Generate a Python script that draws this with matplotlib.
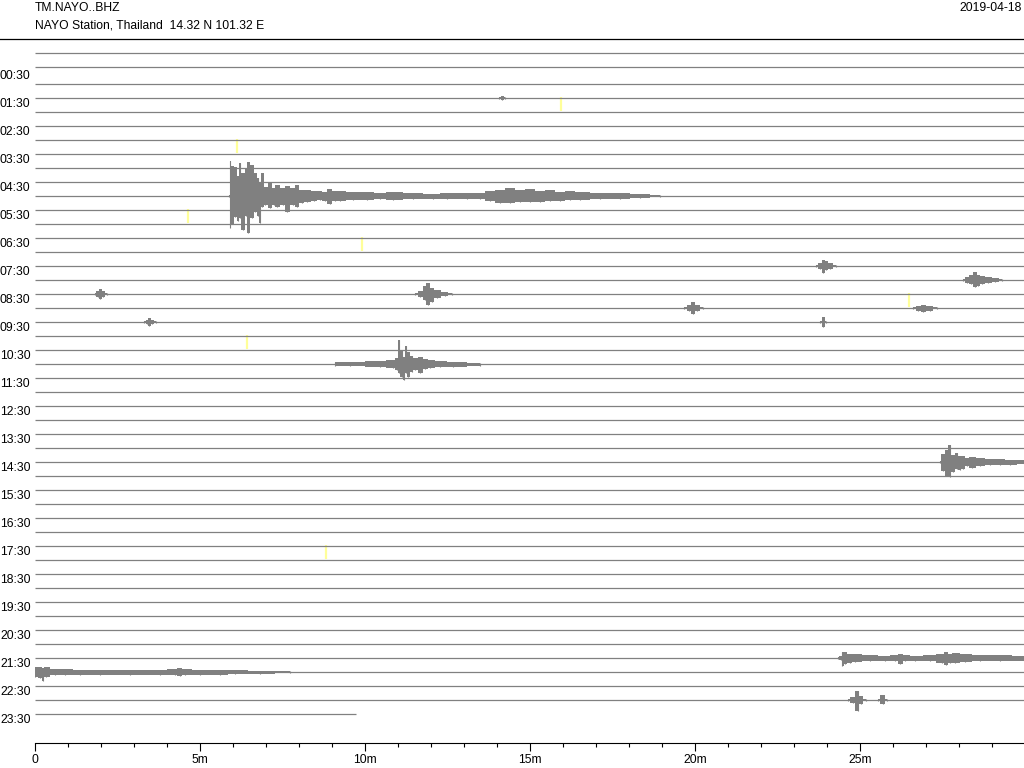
import matplotlib
matplotlib.use("Agg")
import matplotlib.pyplot as plt
from matplotlib.lines import Line2D
from matplotlib.transforms import blended_transform_factory
import numpy as np

plt.rcParams["font.family"] = ["Liberation Sans", "DejaVu Sans"]
plt.rcParams["font.size"] = 8.7

station = "TM.NAYO..BHZ"
site = "NAYO Station, Thailand  14.32 N 101.32 E"
day = "2019-04-18"

n_lines = 48            # one line every 30 minutes
last_line_end = 9.73    # minutes of data on the 23:30 line
trace_scale = 14.0      # amplitude units per line spacing
baseline_shift = {0: -3.3, 1: -3.5}   # mean offset of the first two lines

# envelopes: (minute, amplitude up, amplitude down)
quake_0500 = [(5.879, 1, 1), (5.909, 35, 32), (5.970, 30, 28), (6.061, 29, 21), (6.152, 20, 25),
              (6.212, 33, 22), (6.303, 23, 34), (6.394, 28, 20), (6.455, 34, 37), (6.576, 31, 22),
              (6.667, 23, 16), (6.758, 18, 20), (6.818, 14, 27), (6.879, 23, 11), (6.970, 9, 9),
              (7.121, 13, 12), (7.242, 8, 9), (7.333, 11, 11), (7.515, 8, 9), (7.636, 10, 16),
              (7.818, 8, 9), (7.939, 11, 11), (8.091, 6, 7), (8.242, 6, 6), (8.455, 5, 5),
              (8.636, 5, 4), (8.788, 4, 5), (8.939, 7, 8), (9.091, 5, 5), (9.242, 5, 5),
              (9.636, 4, 4), (10.061, 4, 4), (10.455, 3, 3), (10.848, 4, 4), (11.455, 3, 3),
              (12.061, 2.5, 2.5), (12.485, 3, 3), (13.091, 3, 3), (13.485, 3, 3), (13.788, 5, 5),
              (14.091, 6, 7), (14.394, 8, 7), (14.697, 6, 6), (15.0, 7, 6), (15.303, 5, 6),
              (15.606, 6, 5), (15.909, 4, 5), (16.212, 5, 4), (16.515, 4, 4), (17.121, 3, 3),
              (17.727, 3, 3), (18.333, 2, 2), (18.939, 1, 1)]
quake_1100 = [(9.091, 2, 2), (9.545, 2, 2), (10.455, 3, 3), (10.848, 4, 4), (10.970, 6, 6),
              (11.030, 24, 9), (11.121, 14, 13), (11.182, 7, 16), (11.242, 18, 9), (11.303, 12, 13),
              (11.424, 8, 8), (11.515, 6, 6), (11.667, 7, 9), (11.818, 5, 5), (11.970, 4, 4),
              (12.273, 3, 3), (12.667, 2.5, 2.5), (13.485, 1.5, 1.5)]
quake_1430 = [(27.424, 1, 1), (27.515, 8, 9), (27.636, 12, 14), (27.727, 17, 15), (27.818, 7, 10),
              (27.939, 9, 7), (28.030, 6, 8), (28.121, 6, 7), (28.242, 4, 4), (28.394, 5, 6),
              (28.636, 4, 4), (28.939, 3, 3), (29.242, 3, 3), (29.545, 2.5, 2.5), (29.970, 2, 2)]
quake_2130 = [(24.333, 1, 1), (24.424, 2, 2), (24.455, 6, 8), (24.545, 6, 6), (24.697, 4, 5),
              (24.848, 4, 4), (25.303, 3, 3), (25.758, 2.5, 2.5), (26.061, 3, 3), (26.212, 4.5, 5.5),
              (26.364, 3, 3), (26.667, 2.5, 2.5), (27.121, 3, 3), (27.485, 4, 5), (27.606, 6, 7),
              (27.727, 4, 5), (27.879, 5, 5), (28.182, 4, 4), (28.636, 3, 3), (29.242, 3, 3),
              (29.970, 2.5, 2.5)]
quake_2200 = [(0.0, 5, 5), (0.152, 5, 6), (0.242, 4, 9), (0.333, 5, 5), (0.606, 3, 3),
              (0.909, 3, 3), (1.364, 2.5, 2.5), (1.970, 2.5, 2.5), (2.879, 2.5, 2.5), (3.788, 2.5, 2.5),
              (4.242, 3, 3), (4.394, 4, 4), (4.545, 3, 3), (5.0, 2.5, 2.5), (5.606, 2.5, 2.5),
              (6.061, 2, 2), (6.818, 1.5, 1.5), (7.727, 1, 1)]
small_0130 = [(14.061, 1, 1), (14.152, 2.5, 2), (14.242, 1, 1)]
small_0730 = [(23.667, 1, 1), (23.788, 3, 3), (23.879, 6, 7), (23.970, 5, 4), (24.091, 3, 3), (24.273, 1, 1)]
small_0800 = [(28.121, 1, 1), (28.242, 3, 3), (28.364, 5, 4), (28.485, 8, 7), (28.576, 5, 6),
              (28.697, 4, 4), (28.879, 3, 3), (29.091, 2, 2), (29.303, 1, 1)]
small_0830a = [(1.818, 1, 1), (1.909, 3, 3), (1.970, 5, 5), (2.061, 3, 3), (2.182, 1, 1)]
small_0830b = [(11.515, 1, 1), (11.667, 3, 3), (11.818, 8, 6), (11.909, 11, 11), (12.030, 6, 8),
               (12.182, 4, 4), (12.424, 2, 2), (12.636, 1, 1)]
small_0900a = [(19.667, 1, 1), (19.818, 3, 3), (19.939, 6, 6), (20.061, 3, 3), (20.242, 1, 1)]
small_0900b = [(26.606, 1, 1), (26.758, 2.5, 2.5), (26.909, 3.5, 3.5), (27.121, 2.5, 2.5), (27.333, 1, 1)]
small_0930a = [(3.303, 1, 1), (3.394, 2, 2), (3.455, 4, 4), (3.545, 2, 2), (3.667, 1, 1)]
small_0930b = [(23.788, 1, 1), (23.879, 5, 5), (23.970, 1, 1)]
small_2300a = [(24.636, 1, 1), (24.788, 3, 3), (24.939, 9, 11), (25.030, 4, 4), (25.182, 1, 1)]
small_2300b = [(25.545, 1, 1), (25.697, 5, 4), (25.818, 1, 1)]

events = [(10, quake_0500), (22, quake_1100), (29, quake_1430), (43, quake_2130), (44, quake_2200),
          (3, small_0130), (15, small_0730), (16, small_0800), (17, small_0830a), (17, small_0830b),
          (18, small_0900a), (18, small_0900b), (19, small_0930a), (19, small_0930b),
          (46, small_2300a), (46, small_2300b)]

# yellow event markers: (line, minute)
markers = [(3, 15.94), (6, 6.12), (11, 4.64), (13, 9.91), (17, 26.48), (20, 6.42), (35, 8.82)]

tick_minutes = [0, 5, 10, 15, 20, 25]
tick_labels = ["0", "5m", "10m", "15m", "20m", "25m"]

grey = "#808080"
W, H = 1024, 768
fig = plt.figure(figsize=(W / 100, H / 100), dpi=100)
ax_top, ax_bot = 38, 743
ax = fig.add_axes([35 / W, (H - ax_bot) / H, 990 / W, (ax_bot - ax_top) / H])
ax.set_xlim(0, 30)
ax.set_ylim((ax_bot - 56) / 14.0, (ax_top - 56) / 14.0)

for line_no, minute in markers:
    ax.vlines(minute, line_no - 0.1, line_no + 0.9, color="#ffff99", lw=1.6, zorder=1)

for i in range(n_lines):
    y0 = i + baseline_shift.get(i, 0) / trace_scale
    end = 30 if i < n_lines - 1 else last_line_end
    ax.plot([0, end], [y0, y0], color=grey, lw=0.9, zorder=2, solid_capstyle="butt")

for line_no, env in events:
    env = np.array(env, dtype=float)
    lo = line_no - env[:, 1] / trace_scale
    hi = line_no + env[:, 2] / trace_scale
    ax.fill_between(env[:, 0], lo, hi, step="mid", color=grey, lw=0, zorder=3)
    ax.vlines(env[:, 0], lo, hi, color=grey, lw=0.8, zorder=3)

tr = blended_transform_factory(fig.transFigure, ax.transData)
for i in range(1, n_lines, 2):
    h = i // 2
    ax.text(0.0, i + 0.45, "%02d:30" % h, transform=tr, ha="left", va="center", clip_on=False)

for s in ["top", "left", "right"]:
    ax.spines[s].set_visible(False)
ax.spines["bottom"].set_linewidth(0.8)
ax.set_yticks([])
ax.set_xticks(tick_minutes)
ax.set_xticklabels(tick_labels)
ax.set_xticks(np.arange(0, 30, 1), minor=True)
ax.tick_params(axis="x", which="major", direction="out", length=6, width=0.8, pad=2)
ax.tick_params(axis="x", which="minor", direction="out", length=3, width=0.8)

fig.text(35 / W, 1 - 8 / H, station, ha="left", va="center")
fig.text(35 / W, 1 - 26 / H, site, ha="left", va="center")
fig.text(1022 / W, 1 - 8 / H, day, ha="right", va="center")
fig.add_artist(Line2D([0, 1], [1 - 38.5 / H, 1 - 38.5 / H], color="black", lw=0.9, transform=fig.transFigure))

fig.savefig("out.png", dpi=100)
